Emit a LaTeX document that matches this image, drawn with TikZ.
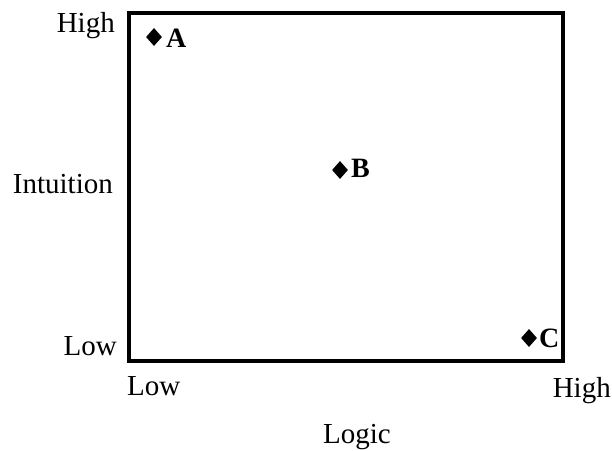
\documentclass[tikz,border=0pt]{standalone}
\usepackage{fontspec}
\setmainfont{Liberation Serif}
\usetikzlibrary{shapes.geometric}
\begin{document}
\begin{tikzpicture}[x=1pt,y=-1pt,
  lbl/.style={inner sep=0pt,font=\fontsize{29}{33}\selectfont},
  pt/.style={inner sep=0pt,font=\fontsize{28}{32}\selectfont\bfseries},
  diam/.style={diamond,fill=black,draw=none,inner sep=0pt,minimum width=16pt,minimum height=18pt},
  frame/.style={line width=4pt}]
\useasboundingbox (0,0) rectangle (612,450);
\draw[frame] (129,13) rectangle (563,361);
% axis labels
\node[lbl,anchor=base east] (yhigh) at (115,32) {High};
\node[lbl,anchor=base east] (yint) at (113,193) {Intuition};
\node[lbl,anchor=base east] (ylow) at (117,355) {Low};
\node[lbl,anchor=base west] (xlow) at (127,395) {Low};
\node[lbl,anchor=base east] (xhigh) at (611,397) {High};
\node[lbl,anchor=base] (xlog) at (357,443) {Logic};
% points
\node[diam] (dA) at (154,37) {};
\node[pt,anchor=base west] (lA) at (166,47) {A};
\node[diam] (dB) at (340,170) {};
\node[pt,anchor=base west] (lB) at (351,177) {B};
\node[diam] (dC) at (529,338) {};
\node[pt,anchor=base west] (lC) at (539,347) {C};
\end{tikzpicture}
\end{document}
